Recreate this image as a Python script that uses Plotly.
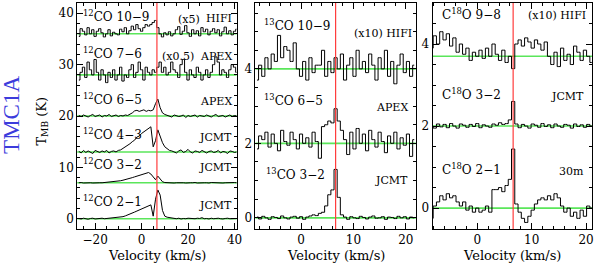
import numpy as np
import plotly.graph_objects as go

# ---------------- data ----------------
# channel grids (km/s)
vel_12co = np.arange(-27, 42, 1.0)                 # 69 channels
vel_iso = np.round(np.arange(51) * 0.6 - 8.4, 2)    # 51 channels

v_lsr = 6.6

co21 = [0.05, -0.05, 0.1, 0.0, -0.1, 0.05, 0.1, -0.05, 0.0, 0.05, 0.1, 0.0, 0.05, 0.1, 0.15, 0.1, 0.2,
        0.25, 0.3, 0.4, 0.55, 0.7, 0.9, 1.1, 1.3, 1.5, 1.7, 1.9, 2.1, 2.3, 2.5, 2.7,
        0.5, 3.8, 5.6, 4.6, 1.6, 0.5, 0.3, 0.2, 0.1,
        0.05, 0.0, 0.1, -0.05, 0.05, 0.0, 0.1, 0.05, -0.05, 0.0, 0.1, 0.05, 0.2, 0.0,
        0.05, -0.05, 0.1, 0.0, 0.05, 0.1, 0.0, -0.05, 0.05, 0.1, 0.0, 0.05, 0.0, 0.05]
co32 = [7.0, 7.05, 6.95, 7.0, 7.05, 7.0, 6.95, 7.0, 7.05, 7.0, 7.0, 7.05, 7.1, 7.05, 7.1,
        7.15, 7.2, 7.3, 7.4, 7.5, 7.6, 7.7, 7.85, 8.0, 8.15, 8.3, 8.4, 8.5, 8.65, 8.8, 9.0, 8.7, 8.1,
        7.6, 8.3, 7.7, 7.2, 7.05,
        7.0, 7.05, 7.0, 6.95, 7.0, 7.05, 7.0, 7.0, 6.95, 7.05, 7.0, 7.0, 7.05, 6.95, 7.0, 7.05,
        7.0, 7.0, 6.95, 7.05, 7.0, 7.0, 7.05, 7.0, 6.95, 7.0, 7.05, 7.0, 7.0, 7.05, 7.0]
co43 = [13.1, 12.8, 13.3, 12.9, 13.2, 13.0, 12.7, 13.3, 13.1, 12.9, 13.2, 13.0, 13.3, 12.8, 13.1, 13.2, 13.0,
        13.3, 13.4, 13.7, 13.9, 14.3, 14.6, 15.0, 15.3, 15.9, 16.1, 16.6, 16.9, 17.3, 17.5, 17.9,
        14.0, 15.2, 17.3, 16.0, 14.8, 14.0, 13.6, 13.3, 13.2,
        13.0, 12.8, 13.2, 13.4, 12.9, 13.1, 13.5, 13.0, 12.8, 13.2, 13.1, 12.9, 13.3, 13.0,
        12.8, 13.1, 13.2, 12.9, 13.0, 13.3, 12.8, 13.1, 13.0, 12.7, 13.2, 13.1, 12.9, 13.0]
co65 = [20.1, 19.9, 20.2, 20.0, 19.8, 20.1, 20.3, 19.9, 20.0, 20.2, 19.8, 20.1, 20.0, 20.3, 19.9, 20.1,
        20.2, 19.9, 20.1, 20.0, 20.2, 20.1, 20.3,
        20.6, 21.0, 21.1, 20.9, 21.0, 21.2, 20.9, 21.1, 21.0,
        21.2, 22.4, 23.3, 21.6, 20.6, 20.3,
        20.1, 20.0, 19.8, 20.2, 20.1, 19.9, 20.0, 20.2, 19.7, 20.1, 19.9, 20.0, 20.2, 19.8, 20.1, 20.0,
        19.9, 20.2, 20.0, 19.8, 20.1, 20.3, 19.9, 20.0, 20.1, 19.8, 20.0, 20.2, 19.9, 20.1, 20.0]
co76 = [27.0, 28.5, 29.5, 27.5, 30.5, 29.0, 28.0, 31.0, 28.5, 27.0,
        29.0, 28.0, 26.5, 28.5, 27.5, 29.0, 27.0, 28.0, 29.5, 26.8,
        28.0, 27.5, 29.0, 30.0, 27.5, 28.5, 30.5, 29.0, 27.0, 29.5,
        28.5, 28.0, 29.0, 28.5, 29.5, 30.5, 28.5, 29.5, 28.0, 28.5,
        30.5, 29.0, 28.5, 27.5, 30.0, 31.0, 28.5, 27.0, 29.0, 28.0,
        27.5, 29.5, 28.5, 27.0, 28.0, 29.0, 27.5, 28.5, 30.0, 31.5,
        30.5, 28.0, 29.0, 28.5, 27.5, 29.0, 30.0, 29.5, 28.5]
co109 = [35.5, 37.0, 36.5, 35.8, 37.2, 36.0, 36.8, 35.5, 36.5, 37.0,
         36.2, 35.4, 36.0, 36.8, 35.6, 36.3, 36.0, 35.8, 36.9, 36.4,
         37.2, 36.0, 36.6, 37.5, 36.8, 37.8, 37.0, 36.5, 37.2, 37.8,
         37.5, 37.8, 38.2, 38.6, 37.2, 36.0, 35.4, 36.2, 35.8, 36.4,
         35.6, 36.0, 36.8, 37.4, 35.9, 36.5, 37.6, 36.2, 35.5, 36.8,
         36.0, 36.6, 35.6, 37.2, 36.4, 36.9, 35.8, 36.5, 37.0, 36.2,
         36.8, 35.6, 36.4, 37.3, 36.0, 36.6, 35.8, 36.5, 36.9]

c13_32 = [0.02, -0.03, 0.04, 0.0, -0.04, 0.03, 0.01, -0.02, 0.05, 0.0, -0.03, 0.02, 0.04, -0.01,
          0.03, -0.04, 0.02, 0.05, 0.08, 0.06, 0.12,
          0.15, 0.32, 0.62, 0.75, 1.3, 0.55, 0.08,
          0.02, -0.04, 0.03, 0.0, -0.02, 0.04, 0.01, -0.03, 0.02, 0.05, -0.01, 0.0, 0.03, -0.04,
          0.02, 0.01, -0.02, 0.04, 0.0, 0.03, -0.03, 0.02, 0.0]
c13_65 = [1.85, 2.2, 2.1, 2.3, 1.9, 2.25, 2.0, 1.8, 2.35, 2.05, 1.95, 2.3, 2.1, 1.85, 2.25, 2.0,
          2.15, 1.9, 2.3, 2.05,
          1.6, 2.45, 2.5, 2.6, 2.55, 2.93, 2.6, 2.35,
          2.1, 1.7, 2.3, 1.85, 2.4, 2.0, 2.25, 1.8, 2.35, 2.1, 1.9, 2.3, 2.05, 1.75, 2.2, 2.0,
          2.3, 1.85, 2.15, 1.95, 2.25, 1.65, 2.1]
c13_109 = [3.7, 4.1, 3.8, 4.3, 4.0, 4.4, 4.2, 4.9, 4.3, 4.6,
           4.5, 4.2, 4.7, 4.0, 3.8, 4.2, 3.7, 4.3, 3.9, 4.1,
           4.1, 4.5, 3.8, 4.2, 3.9, 4.3, 4.0, 4.4, 3.7, 4.1,
           4.3, 3.8, 4.5, 4.0, 4.2, 3.9, 4.4, 4.1, 3.7, 4.3,
           4.0, 4.5, 3.8, 4.2, 3.6, 4.1, 4.4, 3.9, 4.2, 3.8, 4.1]

c18_21 = [-0.25, 0.05, 0.15, 0.3, 0.2, 0.35, 0.25, 0.3, 0.15, 0.05,
          0.15, -0.05, 0.05, -0.1, 0.0, -0.1, -0.05, 0.05, -0.1, 0.45,
          0.45, 0.5, 0.4, 0.55, 0.7, 1.44, 0.1, -0.1, -0.25, -0.35,
          -0.2, -0.05, 0.1, 0.2, 0.25, 0.2, 0.3, 0.2, 0.35, 0.25,
          0.05, -0.1, 0.0, -0.2, -0.1, -0.25, -0.05, -0.2, 0.05, 0.0, -0.1]
c18_32 = [2.0, 1.95, 2.05, 1.98, 2.04, 1.96, 2.06, 2.0, 1.95, 2.05,
          2.02, 1.97, 2.04, 1.99, 2.06, 1.96, 2.03, 2.0, 1.97, 2.05,
          2.02, 2.08, 2.04, 2.06, 2.15, 2.6, 2.05, 1.96, 2.04, 2.0,
          1.95, 2.05, 2.02, 1.97, 2.06, 1.99, 2.03, 1.96, 2.05, 2.0,
          1.97, 2.04, 2.02, 1.95, 2.05, 1.99, 2.03, 1.97, 2.04, 2.0, 1.96]
c18_98 = [3.9, 4.2, 4.0, 4.3, 4.1, 4.25, 3.95, 4.15, 3.8, 4.0,
          3.75, 3.9, 3.6, 3.8, 3.7, 3.85, 3.65, 3.9, 3.7, 4.0,
          3.75, 3.6, 3.85, 3.55, 3.7, 3.4, 4.0, 4.1, 3.95, 4.15,
          4.05, 3.9, 4.1, 4.0, 3.85, 4.05, 3.7, 3.5, 3.8, 3.45,
          3.9, 3.6, 3.75, 3.5, 3.95, 3.8, 3.6, 3.85, 3.7, 3.55, 3.8]

baselines_p1 = [0, 7, 13, 20, 28, 36]
baselines_p2 = [0, 2, 4]
baselines_p3 = [0, 2, 3.7]

x_ticks_p1 = [-20, 0, 20, 40]
x_ticks_iso = [0, 10, 20]
y_ticks_p1 = [0, 10, 20, 30, 40]
y_ticks_iso = [0, 2, 4]

# ---------------- figure ----------------
W, H = 600, 263
TOP, BOT = 3, 229
PH = BOT - TOP

def px(x):
    return x / W

def py(y):
    return (BOT - y) / PH

fig = go.Figure()

def spec(x, y, axis, step):
    fig.add_trace(go.Scatter(
        x=x, y=y, mode="lines",
        line=dict(color="black", width=1, shape="hvh" if step else "linear"),
        xaxis="x" + axis, yaxis="y" + axis, showlegend=False, hoverinfo="skip"))

spec(vel_12co, co21, "", False)
spec(vel_12co, co32, "", False)
spec(vel_12co, co43, "", False)
spec(vel_12co, co65, "", False)
spec(vel_12co, co76, "", True)
spec(vel_12co, co109, "", True)
spec(vel_iso, c13_32, "2", True)
spec(vel_iso, c13_65, "2", True)
spec(vel_iso, c13_109, "2", True)
spec(vel_iso, c18_21, "3", True)
spec(vel_iso, c18_32, "3", True)
spec(vel_iso, c18_98, "3", True)

GREEN = "rgb(90,230,90)"
RED = "rgb(255,60,60)"
shapes = []
for ax, bls in (("", baselines_p1), ("2", baselines_p2), ("3", baselines_p3)):
    xr = "x" + ax
    yr = "y" + ax
    for b in bls:
        shapes.append(dict(type="line", xref=xr + " domain", yref=yr, x0=0, x1=1, y0=b, y1=b,
                           line=dict(color=GREEN, width=1.6), layer="below"))
    shapes.append(dict(type="line", xref=xr, yref=yr + " domain", x0=v_lsr, x1=v_lsr, y0=0, y1=1,
                       line=dict(color=RED, width=1.2), layer="above"))

FONT = "DejaVu Serif"
axis_common = dict(showline=True, linecolor="black", linewidth=1, mirror="allticks",
                   ticks="inside", ticklen=6, tickwidth=1, tickcolor="black",
                   showgrid=False, zeroline=False,
                   tickfont=dict(family=FONT, size=12, color="black"))

def xaxis(domain, rng, mdtick, tv, anchor):
    d = dict(axis_common)
    d.update(domain=domain, range=rng, tickvals=tv, anchor=anchor,
             ticktext=[("−" + str(-t)) if t < 0 else str(t) for t in tv],
             minor=dict(dtick=mdtick, ticks="inside", ticklen=3, tickcolor="black", showgrid=False, tick0=0))
    return d

def yaxis(anchor, rng, tv, mdtick):
    d = dict(axis_common)
    d.update(domain=[0, 1], range=rng, tickvals=tv, anchor=anchor,
             minor=dict(dtick=mdtick, ticks="inside", ticklen=3, tickcolor="black", showgrid=False, tick0=0))
    return d

fig.update_layout(
    width=W, height=H,
    margin=dict(l=0, r=0, t=TOP, b=H - BOT),
    paper_bgcolor="white", plot_bgcolor="white",
    xaxis=xaxis([px(78), px(239)], [-27.7, 40.9], 5, x_ticks_p1, "y"),
    xaxis2=xaxis([px(258), px(420)], [-8.7, 21.9], 2, x_ticks_iso, "y2"),
    xaxis3=xaxis([px(437), px(598)], [-8.2, 21.1], 2, x_ticks_iso, "y3"),
    yaxis=yaxis("x", [-2, 42], y_ticks_p1, 2),
    yaxis2=yaxis("x2", [-0.3, 5.77], y_ticks_iso, 0.5),
    yaxis3=yaxis("x3", [-0.51, 5.0], y_ticks_iso, 0.5),
    shapes=shapes,
)

ann = []
def lab(text, x, y, xanchor="left", size=11):
    ann.append(dict(text=text, x=px(x), y=py(y), xref="paper", yref="paper",
                    xanchor=xanchor, yanchor="middle", showarrow=False,
                    font=dict(family=FONT, size=size, color="black")))

SP = 12  # species label size
# panel 1
lab("<sup>12</sup>CO 10−9", 82, 16, size=SP)
lab("(x5)", 178, 19)
lab("HIFI", 236, 18, "right")
lab("<sup>12</sup>CO 7−6", 82, 53, size=SP)
lab("(x0.5)", 162, 56)
lab("APEX", 236, 56, "right")
lab("<sup>12</sup>CO 6−5", 82, 99, size=SP)
lab("APEX", 236, 101, "right")
lab("<sup>12</sup>CO 4−3", 82, 134, size=SP)
lab("JCMT", 236, 138, "right")
lab("<sup>12</sup>CO 3−2", 82, 164, size=SP)
lab("JCMT", 236, 167, "right")
lab("<sup>12</sup>CO 2−1", 82, 201, size=SP)
lab("JCMT", 236, 205, "right")
# panel 2
lab("<sup>13</sup>CO 10−9", 265, 25, size=SP)
lab("(x10) HIFI", 418, 33, "right")
lab("<sup>13</sup>CO 6−5", 265, 100, size=SP)
lab("APEX", 414, 107, "right")
lab("<sup>13</sup>CO 3−2", 267, 174, size=SP)
lab("JCMT", 414, 180, "right")
# panel 3
lab("C<sup>18</sup>O 9−8", 444, 14, size=SP)
lab("(x10) HIFI", 594, 16, "right")
lab("C<sup>18</sup>O 3−2", 444, 94, size=SP)
lab("JCMT", 592, 96, "right")
lab("C<sup>18</sup>O 2−1", 444, 169, size=SP)
lab("30m", 592, 171, "right")

# axis titles
for cx in ((78 + 239) / 2, (258 + 420) / 2, (437 + 598) / 2):
    lab("Velocity (km/s)", cx, 255, "center", 13)

ann.append(dict(text="T<sub>MB</sub> (K)", x=px(43), y=py(121), xref="paper", yref="paper",
                textangle=-90, showarrow=False, xanchor="center", yanchor="middle",
                font=dict(family=FONT, size=13, color="black")))
ann.append(dict(text="TMC1A", x=px(11), y=py(115), xref="paper", yref="paper",
                textangle=-90, showarrow=False, xanchor="center", yanchor="middle",
                font=dict(family="Liberation Serif", size=23, color="rgb(60,60,220)")))

fig.update_layout(annotations=ann)
fig.write_html("out.html", config={"displayModeBar": False},
               post_script="document.body.style.margin='0';document.body.style.overflow='hidden';")
